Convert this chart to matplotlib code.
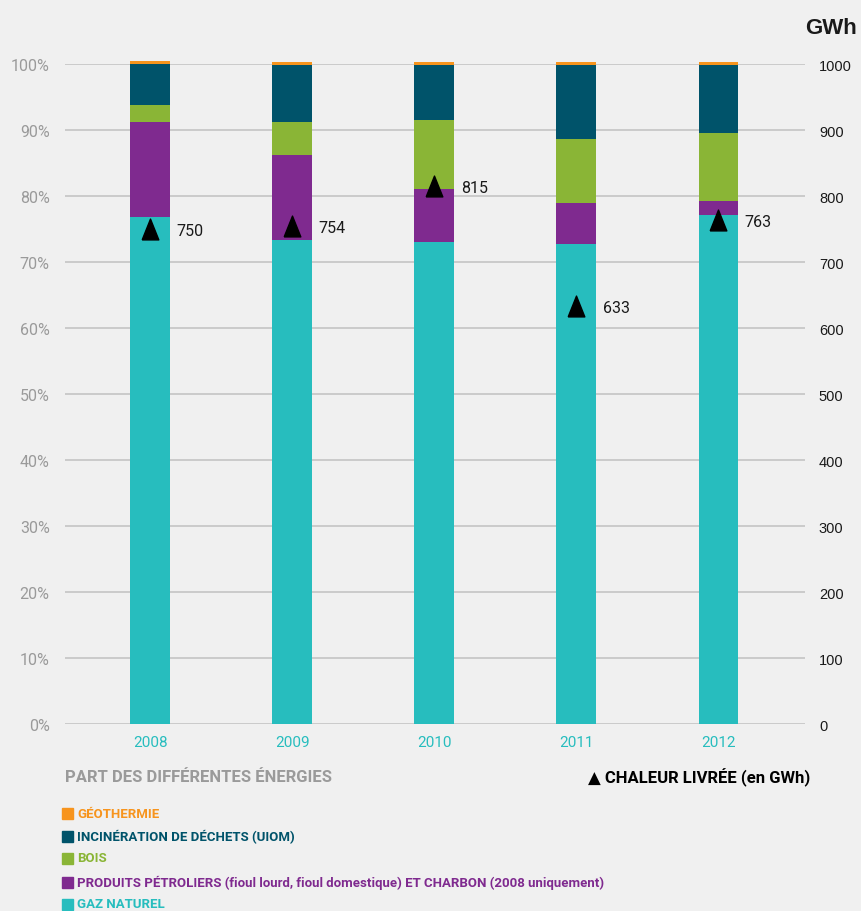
import matplotlib.pyplot as plt
from matplotlib.patches import Rectangle

YEARS = ["2008", "2009", "2010", "2011", "2012"]

# share of each energy in the heat mix (%)
GAZ = [76.8, 73.3, 73.0, 72.7, 77.1]
PETROLE = [14.4, 12.9, 8.1, 6.2, 2.1]
BOIS = [2.6, 5.0, 10.4, 9.7, 10.3]
UIOM = [6.2, 8.6, 8.3, 11.2, 10.3]
GEO = [0.5, 0.5, 0.5, 0.5, 0.5]

# delivered heat (GWh)
CHALEUR = [750, 754, 815, 633, 763]

SERIES = [
    ("GAZ NATUREL", GAZ, "#27BDBE"),
    ("PRODUITS PÉTROLIERS (fioul lourd, fioul domestique) ET CHARBON (2008 uniquement)", PETROLE, "#7F2A8F"),
    ("BOIS", BOIS, "#8AB536"),
    ("INCINÉRATION DE DÉCHETS (UIOM)", UIOM, "#00536A"),
    ("GÉOTHERMIE", GEO, "#F7941D"),
]

BG = "#f0f0f0"
NARROW = ["Roboto", "DejaVu Sans"]
plt.rcParams["font.family"] = ["Liberation Sans", "DejaVu Sans"]

# slightly tall triangle for the delivered-heat marks
TRI = [(-0.8, -1.0), (0.8, -1.0), (0.0, 1.0), (-0.8, -1.0)]

fig = plt.figure(figsize=(8.61, 9.12), dpi=100, facecolor=BG)
ax = fig.add_axes([0.0755, 0.205, 0.8595, 0.7237])
ax.set_facecolor(BG)

x = list(range(len(YEARS)))
bottom = [0.0] * len(YEARS)
for name, vals, color in SERIES:
    ax.bar(x, vals, width=0.28, bottom=bottom, color=color, zorder=3, clip_on=False)
    bottom = [b + v for b, v in zip(bottom, vals)]

ax.set_xlim(-0.6, 4.61)
ax.set_ylim(0, 100)
ax.set_yticks(range(0, 101, 10))
ax.set_yticklabels([f"{v}%" for v in range(0, 101, 10)], family=NARROW, fontsize=11.5, color="#9a9a9a")
ax.set_xticks(x)
ax.set_xticklabels(YEARS, family=NARROW, fontsize=11, color="#27BDBE")
ax.tick_params(axis="both", length=0)
ax.tick_params(axis="y", pad=11)
ax.tick_params(axis="x", pad=8)
ax.grid(axis="y", color="#c8c8c8", linewidth=1.3, zorder=0)
for s in ax.spines.values():
    s.set_visible(False)

ax2 = ax.twinx()
ax2.set_ylim(0, 1000)
ax2.set_yticks(range(0, 1001, 100))
ax2.tick_params(axis="y", length=0, pad=10, labelsize=10.5, labelcolor="#1a1a1a")
for s in ax2.spines.values():
    s.set_visible(False)
ax2.plot(x, CHALEUR, linestyle="none", marker=TRI, markersize=15, color="black", zorder=5)
for xi, v in zip(x, CHALEUR):
    ax2.annotate(str(v), (xi, v), xytext=(19, -1), textcoords="offset points",
                 va="center", ha="left", fontsize=11.5, family=NARROW, color="#1a1a1a")

fig.text(0.935, 0.969, "GWh", fontsize=16, fontweight="bold", color="#1a1a1a", ha="left", va="center")

# legend block
fig.text(0.0755, 0.147, "PART DES DIFFÉRENTES ÉNERGIES", fontsize=12, fontweight="bold",
         family=NARROW, color="#9a9a9a", va="center")
fig.text(0.941, 0.147, "▲ CHALEUR LIVRÉE (en GWh)", fontsize=12, fontweight="bold",
         family=NARROW, color="black", va="center", ha="right")

legend_y = [814, 837, 859, 883, 905]
for (name, vals, color), ypx in zip(reversed(SERIES), legend_y):
    yf = 1 - ypx / 912
    fig.patches.append(Rectangle((62 / 861, yf - 5.5 / 912), 11 / 861, 11 / 912,
                                 transform=fig.transFigure, color=color))
    fig.text(77 / 861, yf, name, fontsize=9.5, fontweight="bold", family=NARROW,
             color=color, va="center", ha="left")

fig.savefig("out.png", dpi=100, facecolor=BG)
